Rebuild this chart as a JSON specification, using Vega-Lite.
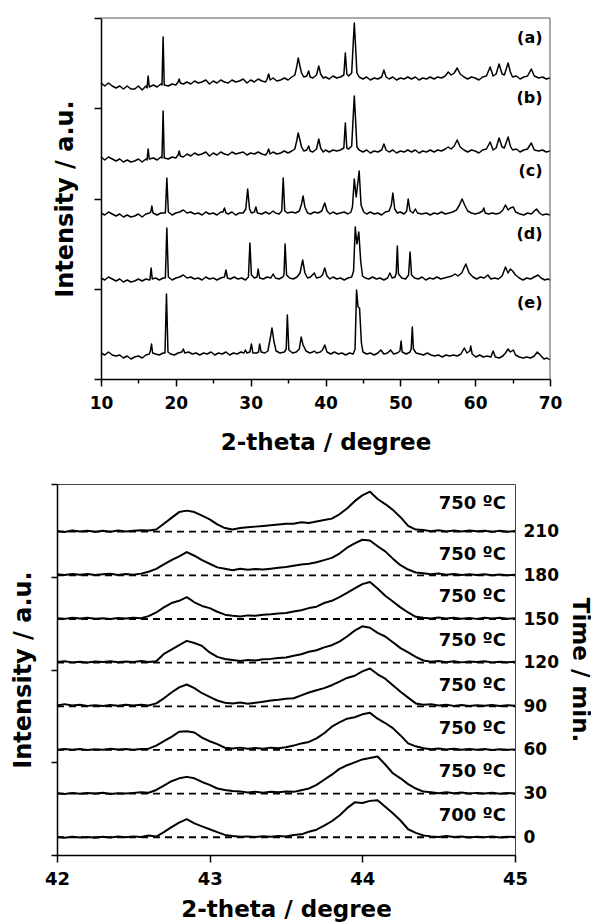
{
"$schema": "https://vega.github.io/schema/vega-lite/v6.json",
"background": "#ffffff",
"padding": {"left": 10, "top": 17, "right": 0, "bottom": 0},
"spacing": 28,
"config": {
  "view": {"stroke": null},
  "font": "DejaVu Sans",
  "axis": {"labelFont": "DejaVu Sans", "titleFont": "DejaVu Sans", "labelFontWeight": "bold", "titleFontWeight": "bold", "labelColor": "#000", "titleColor": "#000", "domainColor": "#000", "tickColor": "#000", "grid": false, "domainWidth": 1.5, "tickWidth": 1.5}
},
"datasets": {
"top": [
{"s":"a","x":10,"y":296},{"s":"a","x":10.5,"y":293},{"s":"a","x":11,"y":296},{"s":"a","x":11.5,"y":293},{"s":"a","x":12,"y":291},{"s":"a","x":12.5,"y":293},{"s":"a","x":13,"y":290},{"s":"a","x":13.5,"y":293},{"s":"a","x":14,"y":290},{"s":"a","x":14.5,"y":290},{"s":"a","x":15,"y":293},{"s":"a","x":15.5,"y":289},{"s":"a","x":16,"y":293},{"s":"a","x":16.15,"y":291},{"s":"a","x":16.3,"y":303},{"s":"a","x":16.45,"y":292},{"s":"a","x":17,"y":294},{"s":"a","x":17.5,"y":292},{"s":"a","x":18,"y":295},{"s":"a","x":18.15,"y":294},{"s":"a","x":18.3,"y":342},{"s":"a","x":18.45,"y":294},{"s":"a","x":19,"y":293},{"s":"a","x":19.5,"y":295},{"s":"a","x":20,"y":294},{"s":"a","x":20.3,"y":297},{"s":"a","x":20.45,"y":300},{"s":"a","x":20.6,"y":296},{"s":"a","x":21,"y":295},{"s":"a","x":21.5,"y":297},{"s":"a","x":22,"y":295},{"s":"a","x":22.5,"y":298},{"s":"a","x":23,"y":296},{"s":"a","x":23.5,"y":297},{"s":"a","x":24,"y":299},{"s":"a","x":24.5,"y":295},{"s":"a","x":25,"y":298},{"s":"a","x":25.5,"y":296},{"s":"a","x":26,"y":299},{"s":"a","x":26.5,"y":297},{"s":"a","x":27,"y":296},{"s":"a","x":27.5,"y":299},{"s":"a","x":28,"y":297},{"s":"a","x":28.5,"y":298},{"s":"a","x":29,"y":300},{"s":"a","x":29.5,"y":296},{"s":"a","x":30,"y":299},{"s":"a","x":30.5,"y":297},{"s":"a","x":31,"y":300},{"s":"a","x":31.5,"y":298},{"s":"a","x":32,"y":297},{"s":"a","x":32.2,"y":300},{"s":"a","x":32.4,"y":305},{"s":"a","x":32.6,"y":299},{"s":"a","x":33,"y":301},{"s":"a","x":33.5,"y":298},{"s":"a","x":34,"y":299},{"s":"a","x":34.5,"y":301},{"s":"a","x":35,"y":299},{"s":"a","x":35.5,"y":302},{"s":"a","x":35.9,"y":304},{"s":"a","x":36.15,"y":312},{"s":"a","x":36.35,"y":321},{"s":"a","x":36.55,"y":314},{"s":"a","x":36.8,"y":306},{"s":"a","x":37.1,"y":302},{"s":"a","x":37.5,"y":303},{"s":"a","x":37.75,"y":308},{"s":"a","x":37.95,"y":302},{"s":"a","x":38.3,"y":301},{"s":"a","x":38.8,"y":304},{"s":"a","x":39.1,"y":313},{"s":"a","x":39.35,"y":305},{"s":"a","x":39.7,"y":301},{"s":"a","x":40,"y":302},{"s":"a","x":40.5,"y":300},{"s":"a","x":41,"y":303},{"s":"a","x":41.5,"y":301},{"s":"a","x":42,"y":302},{"s":"a","x":42.45,"y":304},{"s":"a","x":42.65,"y":326},{"s":"a","x":42.85,"y":305},{"s":"a","x":43.1,"y":303},{"s":"a","x":43.5,"y":306},{"s":"a","x":43.7,"y":335},{"s":"a","x":43.85,"y":356},{"s":"a","x":44,"y":335},{"s":"a","x":44.2,"y":306},{"s":"a","x":44.5,"y":302},{"s":"a","x":45,"y":300},{"s":"a","x":45.5,"y":302},{"s":"a","x":46,"y":299},{"s":"a","x":46.5,"y":301},{"s":"a","x":47,"y":300},{"s":"a","x":47.5,"y":302},{"s":"a","x":47.8,"y":309},{"s":"a","x":48.1,"y":302},{"s":"a","x":48.5,"y":300},{"s":"a","x":49,"y":302},{"s":"a","x":49.5,"y":299},{"s":"a","x":50,"y":301},{"s":"a","x":50.5,"y":300},{"s":"a","x":51,"y":302},{"s":"a","x":51.5,"y":300},{"s":"a","x":52,"y":302},{"s":"a","x":52.5,"y":299},{"s":"a","x":53,"y":301},{"s":"a","x":53.5,"y":300},{"s":"a","x":54,"y":302},{"s":"a","x":54.5,"y":300},{"s":"a","x":55,"y":302},{"s":"a","x":55.5,"y":301},{"s":"a","x":56,"y":303},{"s":"a","x":56.4,"y":307},{"s":"a","x":56.8,"y":304},{"s":"a","x":57.2,"y":306},{"s":"a","x":57.6,"y":311},{"s":"a","x":58,"y":305},{"s":"a","x":58.5,"y":302},{"s":"a","x":59,"y":300},{"s":"a","x":59.5,"y":302},{"s":"a","x":60,"y":301},{"s":"a","x":60.5,"y":299},{"s":"a","x":61,"y":302},{"s":"a","x":61.5,"y":303},{"s":"a","x":62,"y":312},{"s":"a","x":62.4,"y":303},{"s":"a","x":62.8,"y":305},{"s":"a","x":63.2,"y":315},{"s":"a","x":63.6,"y":305},{"s":"a","x":63.9,"y":304},{"s":"a","x":64.4,"y":316},{"s":"a","x":64.7,"y":307},{"s":"a","x":65,"y":302},{"s":"a","x":65.5,"y":303},{"s":"a","x":66,"y":300},{"s":"a","x":66.5,"y":302},{"s":"a","x":67,"y":303},{"s":"a","x":67.5,"y":310},{"s":"a","x":67.9,"y":303},{"s":"a","x":68.5,"y":301},{"s":"a","x":69,"y":302},{"s":"a","x":69.5,"y":300},{"s":"a","x":70,"y":301},
{"s":"b","x":10,"y":222},{"s":"b","x":10.5,"y":219},{"s":"b","x":11,"y":222},{"s":"b","x":11.5,"y":220},{"s":"b","x":12,"y":218},{"s":"b","x":12.5,"y":220},{"s":"b","x":13,"y":217},{"s":"b","x":13.5,"y":219},{"s":"b","x":14,"y":217},{"s":"b","x":14.5,"y":218},{"s":"b","x":15,"y":220},{"s":"b","x":15.5,"y":217},{"s":"b","x":16,"y":220},{"s":"b","x":16.15,"y":219},{"s":"b","x":16.3,"y":230},{"s":"b","x":16.45,"y":220},{"s":"b","x":17,"y":221},{"s":"b","x":17.5,"y":219},{"s":"b","x":18,"y":222},{"s":"b","x":18.15,"y":221},{"s":"b","x":18.3,"y":268},{"s":"b","x":18.45,"y":221},{"s":"b","x":19,"y":220},{"s":"b","x":19.5,"y":222},{"s":"b","x":20,"y":221},{"s":"b","x":20.3,"y":224},{"s":"b","x":20.45,"y":228},{"s":"b","x":20.6,"y":223},{"s":"b","x":21,"y":222},{"s":"b","x":21.5,"y":225},{"s":"b","x":22,"y":223},{"s":"b","x":22.5,"y":226},{"s":"b","x":23,"y":224},{"s":"b","x":23.5,"y":225},{"s":"b","x":24,"y":227},{"s":"b","x":24.5,"y":223},{"s":"b","x":25,"y":226},{"s":"b","x":25.5,"y":224},{"s":"b","x":26,"y":227},{"s":"b","x":26.5,"y":225},{"s":"b","x":27,"y":224},{"s":"b","x":27.5,"y":227},{"s":"b","x":28,"y":225},{"s":"b","x":28.5,"y":226},{"s":"b","x":29,"y":227},{"s":"b","x":29.5,"y":224},{"s":"b","x":30,"y":226},{"s":"b","x":30.5,"y":225},{"s":"b","x":31,"y":227},{"s":"b","x":31.5,"y":225},{"s":"b","x":32,"y":224},{"s":"b","x":32.2,"y":226},{"s":"b","x":32.4,"y":230},{"s":"b","x":32.6,"y":225},{"s":"b","x":33,"y":227},{"s":"b","x":33.5,"y":225},{"s":"b","x":34,"y":226},{"s":"b","x":34.5,"y":228},{"s":"b","x":35,"y":226},{"s":"b","x":35.5,"y":228},{"s":"b","x":35.9,"y":230},{"s":"b","x":36.15,"y":238},{"s":"b","x":36.35,"y":246},{"s":"b","x":36.55,"y":240},{"s":"b","x":36.8,"y":232},{"s":"b","x":37.1,"y":228},{"s":"b","x":37.5,"y":229},{"s":"b","x":37.75,"y":233},{"s":"b","x":37.95,"y":228},{"s":"b","x":38.3,"y":227},{"s":"b","x":38.8,"y":230},{"s":"b","x":39.1,"y":240},{"s":"b","x":39.35,"y":231},{"s":"b","x":39.7,"y":227},{"s":"b","x":40,"y":229},{"s":"b","x":40.5,"y":227},{"s":"b","x":41,"y":229},{"s":"b","x":41.5,"y":228},{"s":"b","x":42,"y":229},{"s":"b","x":42.45,"y":231},{"s":"b","x":42.65,"y":256},{"s":"b","x":42.85,"y":231},{"s":"b","x":43.1,"y":230},{"s":"b","x":43.5,"y":233},{"s":"b","x":43.7,"y":262},{"s":"b","x":43.85,"y":283},{"s":"b","x":44,"y":262},{"s":"b","x":44.2,"y":232},{"s":"b","x":44.5,"y":229},{"s":"b","x":45,"y":227},{"s":"b","x":45.5,"y":229},{"s":"b","x":46,"y":226},{"s":"b","x":46.5,"y":228},{"s":"b","x":47,"y":227},{"s":"b","x":47.5,"y":229},{"s":"b","x":47.8,"y":235},{"s":"b","x":48.1,"y":229},{"s":"b","x":48.5,"y":227},{"s":"b","x":49,"y":229},{"s":"b","x":49.5,"y":226},{"s":"b","x":50,"y":228},{"s":"b","x":50.5,"y":227},{"s":"b","x":51,"y":229},{"s":"b","x":51.5,"y":227},{"s":"b","x":52,"y":229},{"s":"b","x":52.5,"y":226},{"s":"b","x":53,"y":228},{"s":"b","x":53.5,"y":227},{"s":"b","x":54,"y":229},{"s":"b","x":54.5,"y":227},{"s":"b","x":55,"y":229},{"s":"b","x":55.5,"y":228},{"s":"b","x":56,"y":230},{"s":"b","x":56.4,"y":232},{"s":"b","x":56.8,"y":230},{"s":"b","x":57.2,"y":233},{"s":"b","x":57.6,"y":239},{"s":"b","x":58,"y":232},{"s":"b","x":58.5,"y":229},{"s":"b","x":59,"y":227},{"s":"b","x":59.5,"y":229},{"s":"b","x":60,"y":228},{"s":"b","x":60.5,"y":226},{"s":"b","x":61,"y":229},{"s":"b","x":61.5,"y":230},{"s":"b","x":62,"y":237},{"s":"b","x":62.4,"y":229},{"s":"b","x":62.8,"y":231},{"s":"b","x":63.2,"y":241},{"s":"b","x":63.6,"y":232},{"s":"b","x":63.9,"y":231},{"s":"b","x":64.4,"y":242},{"s":"b","x":64.7,"y":233},{"s":"b","x":65,"y":229},{"s":"b","x":65.5,"y":230},{"s":"b","x":66,"y":227},{"s":"b","x":66.5,"y":229},{"s":"b","x":67,"y":230},{"s":"b","x":67.5,"y":236},{"s":"b","x":67.9,"y":229},{"s":"b","x":68.5,"y":228},{"s":"b","x":69,"y":229},{"s":"b","x":69.5,"y":227},{"s":"b","x":70,"y":228},
{"s":"c","x":10,"y":166},{"s":"c","x":10.5,"y":164},{"s":"c","x":11,"y":167},{"s":"c","x":11.5,"y":165},{"s":"c","x":12,"y":163},{"s":"c","x":12.5,"y":165},{"s":"c","x":13,"y":162},{"s":"c","x":13.5,"y":164},{"s":"c","x":14,"y":162},{"s":"c","x":14.5,"y":163},{"s":"c","x":15,"y":165},{"s":"c","x":15.5,"y":162},{"s":"c","x":16,"y":165},{"s":"c","x":16.5,"y":166},{"s":"c","x":16.65,"y":167},{"s":"c","x":16.8,"y":173},{"s":"c","x":16.95,"y":166},{"s":"c","x":17.5,"y":164},{"s":"c","x":18,"y":166},{"s":"c","x":18.6,"y":166},{"s":"c","x":18.8,"y":201},{"s":"c","x":19,"y":167},{"s":"c","x":19.5,"y":164},{"s":"c","x":20,"y":166},{"s":"c","x":20.5,"y":167},{"s":"c","x":21,"y":169},{"s":"c","x":21.5,"y":166},{"s":"c","x":22,"y":167},{"s":"c","x":22.5,"y":165},{"s":"c","x":23,"y":166},{"s":"c","x":23.5,"y":164},{"s":"c","x":24,"y":167},{"s":"c","x":24.5,"y":165},{"s":"c","x":25,"y":166},{"s":"c","x":25.5,"y":164},{"s":"c","x":26,"y":167},{"s":"c","x":26.3,"y":167},{"s":"c","x":26.5,"y":171},{"s":"c","x":26.7,"y":166},{"s":"c","x":27,"y":165},{"s":"c","x":27.5,"y":167},{"s":"c","x":28,"y":164},{"s":"c","x":28.5,"y":166},{"s":"c","x":29,"y":166},{"s":"c","x":29.35,"y":170},{"s":"c","x":29.6,"y":190},{"s":"c","x":29.85,"y":170},{"s":"c","x":30.1,"y":166},{"s":"c","x":30.5,"y":167},{"s":"c","x":30.7,"y":172},{"s":"c","x":30.9,"y":166},{"s":"c","x":31.5,"y":165},{"s":"c","x":32,"y":167},{"s":"c","x":32.5,"y":165},{"s":"c","x":33,"y":168},{"s":"c","x":33.3,"y":166},{"s":"c","x":33.8,"y":165},{"s":"c","x":34.15,"y":168},{"s":"c","x":34.35,"y":201},{"s":"c","x":34.55,"y":168},{"s":"c","x":34.9,"y":166},{"s":"c","x":35.5,"y":167},{"s":"c","x":36,"y":166},{"s":"c","x":36.5,"y":168},{"s":"c","x":36.8,"y":175},{"s":"c","x":37,"y":183},{"s":"c","x":37.25,"y":172},{"s":"c","x":37.6,"y":166},{"s":"c","x":38,"y":165},{"s":"c","x":38.5,"y":167},{"s":"c","x":39,"y":166},{"s":"c","x":39.5,"y":168},{"s":"c","x":39.9,"y":176},{"s":"c","x":40.2,"y":168},{"s":"c","x":40.6,"y":165},{"s":"c","x":41,"y":167},{"s":"c","x":41.5,"y":165},{"s":"c","x":42,"y":166},{"s":"c","x":42.5,"y":167},{"s":"c","x":43,"y":165},{"s":"c","x":43.4,"y":167},{"s":"c","x":43.6,"y":172},{"s":"c","x":43.85,"y":200},{"s":"c","x":44.1,"y":182},{"s":"c","x":44.5,"y":208},{"s":"c","x":44.75,"y":174},{"s":"c","x":45.1,"y":167},{"s":"c","x":45.5,"y":165},{"s":"c","x":46,"y":167},{"s":"c","x":46.5,"y":165},{"s":"c","x":47,"y":166},{"s":"c","x":47.5,"y":164},{"s":"c","x":48,"y":167},{"s":"c","x":48.5,"y":168},{"s":"c","x":48.8,"y":174},{"s":"c","x":49,"y":186},{"s":"c","x":49.25,"y":170},{"s":"c","x":49.6,"y":166},{"s":"c","x":50,"y":167},{"s":"c","x":50.5,"y":165},{"s":"c","x":50.85,"y":168},{"s":"c","x":51.05,"y":180},{"s":"c","x":51.3,"y":168},{"s":"c","x":51.7,"y":166},{"s":"c","x":52,"y":170},{"s":"c","x":52.3,"y":166},{"s":"c","x":52.8,"y":165},{"s":"c","x":53.5,"y":166},{"s":"c","x":54,"y":164},{"s":"c","x":54.5,"y":166},{"s":"c","x":55,"y":165},{"s":"c","x":55.5,"y":167},{"s":"c","x":56,"y":165},{"s":"c","x":56.5,"y":166},{"s":"c","x":57,"y":167},{"s":"c","x":57.5,"y":169},{"s":"c","x":57.9,"y":174},{"s":"c","x":58.25,"y":180},{"s":"c","x":58.6,"y":174},{"s":"c","x":59,"y":168},{"s":"c","x":59.5,"y":166},{"s":"c","x":60,"y":165},{"s":"c","x":60.5,"y":166},{"s":"c","x":61,"y":168},{"s":"c","x":61.15,"y":171},{"s":"c","x":61.35,"y":166},{"s":"c","x":61.8,"y":165},{"s":"c","x":62.3,"y":166},{"s":"c","x":62.8,"y":165},{"s":"c","x":63.3,"y":166},{"s":"c","x":63.7,"y":169},{"s":"c","x":64.05,"y":174},{"s":"c","x":64.4,"y":169},{"s":"c","x":64.7,"y":171},{"s":"c","x":65.1,"y":172},{"s":"c","x":65.4,"y":167},{"s":"c","x":66,"y":165},{"s":"c","x":66.5,"y":164},{"s":"c","x":67,"y":166},{"s":"c","x":67.5,"y":165},{"s":"c","x":67.9,"y":168},{"s":"c","x":68.2,"y":170},{"s":"c","x":68.6,"y":166},{"s":"c","x":69,"y":164},{"s":"c","x":69.5,"y":165},{"s":"c","x":70,"y":164},
{"s":"d","x":10,"y":101},{"s":"d","x":10.5,"y":99},{"s":"d","x":11,"y":102},{"s":"d","x":11.5,"y":100},{"s":"d","x":12,"y":98},{"s":"d","x":12.5,"y":100},{"s":"d","x":13,"y":97},{"s":"d","x":13.5,"y":99},{"s":"d","x":14,"y":97},{"s":"d","x":14.5,"y":98},{"s":"d","x":15,"y":100},{"s":"d","x":15.5,"y":98},{"s":"d","x":16,"y":100},{"s":"d","x":16.5,"y":99},{"s":"d","x":16.55,"y":100},{"s":"d","x":16.7,"y":111},{"s":"d","x":16.85,"y":100},{"s":"d","x":17.3,"y":101},{"s":"d","x":17.8,"y":99},{"s":"d","x":18.3,"y":101},{"s":"d","x":18.6,"y":101},{"s":"d","x":18.8,"y":151},{"s":"d","x":19,"y":102},{"s":"d","x":19.5,"y":99},{"s":"d","x":20,"y":101},{"s":"d","x":20.5,"y":102},{"s":"d","x":21,"y":104},{"s":"d","x":21.5,"y":101},{"s":"d","x":22,"y":102},{"s":"d","x":22.5,"y":100},{"s":"d","x":23,"y":101},{"s":"d","x":23.5,"y":99},{"s":"d","x":24,"y":102},{"s":"d","x":24.5,"y":100},{"s":"d","x":25,"y":101},{"s":"d","x":25.5,"y":99},{"s":"d","x":26,"y":101},{"s":"d","x":26.5,"y":102},{"s":"d","x":26.7,"y":109},{"s":"d","x":26.9,"y":101},{"s":"d","x":27.3,"y":100},{"s":"d","x":27.8,"y":102},{"s":"d","x":28.3,"y":100},{"s":"d","x":28.8,"y":101},{"s":"d","x":29.3,"y":99},{"s":"d","x":29.7,"y":102},{"s":"d","x":29.9,"y":136},{"s":"d","x":30.1,"y":104},{"s":"d","x":30.5,"y":101},{"s":"d","x":30.85,"y":102},{"s":"d","x":31,"y":110},{"s":"d","x":31.2,"y":101},{"s":"d","x":31.7,"y":100},{"s":"d","x":32.2,"y":102},{"s":"d","x":32.7,"y":101},{"s":"d","x":33,"y":105},{"s":"d","x":33.3,"y":101},{"s":"d","x":33.8,"y":100},{"s":"d","x":34.3,"y":102},{"s":"d","x":34.45,"y":104},{"s":"d","x":34.6,"y":135},{"s":"d","x":34.8,"y":104},{"s":"d","x":35.2,"y":101},{"s":"d","x":35.7,"y":100},{"s":"d","x":36.2,"y":102},{"s":"d","x":36.6,"y":106},{"s":"d","x":36.95,"y":119},{"s":"d","x":37.25,"y":106},{"s":"d","x":37.6,"y":101},{"s":"d","x":38,"y":102},{"s":"d","x":38.5,"y":106},{"s":"d","x":38.8,"y":101},{"s":"d","x":39.3,"y":102},{"s":"d","x":39.6,"y":104},{"s":"d","x":39.9,"y":111},{"s":"d","x":40.2,"y":103},{"s":"d","x":40.6,"y":100},{"s":"d","x":41,"y":102},{"s":"d","x":41.5,"y":100},{"s":"d","x":42,"y":101},{"s":"d","x":42.5,"y":99},{"s":"d","x":43,"y":101},{"s":"d","x":43.5,"y":102},{"s":"d","x":43.75,"y":108},{"s":"d","x":43.98,"y":152},{"s":"d","x":44.2,"y":135},{"s":"d","x":44.45,"y":147},{"s":"d","x":44.7,"y":118},{"s":"d","x":44.95,"y":103},{"s":"d","x":45.3,"y":101},{"s":"d","x":45.8,"y":100},{"s":"d","x":46.3,"y":102},{"s":"d","x":46.8,"y":100},{"s":"d","x":47.3,"y":101},{"s":"d","x":47.8,"y":99},{"s":"d","x":48.3,"y":101},{"s":"d","x":48.6,"y":106},{"s":"d","x":48.9,"y":101},{"s":"d","x":49.3,"y":102},{"s":"d","x":49.45,"y":106},{"s":"d","x":49.6,"y":133},{"s":"d","x":49.75,"y":105},{"s":"d","x":50.2,"y":101},{"s":"d","x":50.7,"y":100},{"s":"d","x":51.1,"y":104},{"s":"d","x":51.3,"y":127},{"s":"d","x":51.5,"y":104},{"s":"d","x":51.9,"y":101},{"s":"d","x":52.4,"y":100},{"s":"d","x":52.9,"y":102},{"s":"d","x":53.4,"y":99},{"s":"d","x":53.9,"y":101},{"s":"d","x":54.4,"y":100},{"s":"d","x":54.9,"y":102},{"s":"d","x":55.4,"y":100},{"s":"d","x":55.9,"y":101},{"s":"d","x":56.4,"y":102},{"s":"d","x":56.9,"y":103},{"s":"d","x":57.3,"y":105},{"s":"d","x":57.7,"y":103},{"s":"d","x":58.2,"y":106},{"s":"d","x":58.75,"y":115},{"s":"d","x":59.2,"y":106},{"s":"d","x":59.7,"y":102},{"s":"d","x":60.2,"y":100},{"s":"d","x":60.7,"y":102},{"s":"d","x":61.2,"y":101},{"s":"d","x":61.7,"y":104},{"s":"d","x":62.1,"y":100},{"s":"d","x":62.6,"y":101},{"s":"d","x":63.1,"y":100},{"s":"d","x":63.6,"y":103},{"s":"d","x":64.05,"y":112},{"s":"d","x":64.4,"y":106},{"s":"d","x":64.7,"y":110},{"s":"d","x":65,"y":108},{"s":"d","x":65.4,"y":104},{"s":"d","x":65.9,"y":101},{"s":"d","x":66.4,"y":99},{"s":"d","x":66.9,"y":101},{"s":"d","x":67.4,"y":100},{"s":"d","x":67.9,"y":102},{"s":"d","x":68.4,"y":104},{"s":"d","x":68.8,"y":101},{"s":"d","x":69.3,"y":99},{"s":"d","x":69.7,"y":100},{"s":"d","x":70,"y":99},
{"s":"e","x":10,"y":26},{"s":"e","x":10.5,"y":24},{"s":"e","x":11,"y":27},{"s":"e","x":11.5,"y":24},{"s":"e","x":12,"y":23},{"s":"e","x":12.5,"y":24},{"s":"e","x":13,"y":21},{"s":"e","x":13.5,"y":23},{"s":"e","x":14,"y":20},{"s":"e","x":14.5,"y":22},{"s":"e","x":15,"y":23},{"s":"e","x":15.5,"y":21},{"s":"e","x":16,"y":24},{"s":"e","x":16.45,"y":25},{"s":"e","x":16.6,"y":28},{"s":"e","x":16.75,"y":35},{"s":"e","x":16.9,"y":26},{"s":"e","x":17.3,"y":25},{"s":"e","x":17.8,"y":24},{"s":"e","x":18.3,"y":26},{"s":"e","x":18.55,"y":26},{"s":"e","x":18.75,"y":85},{"s":"e","x":18.95,"y":27},{"s":"e","x":19.3,"y":25},{"s":"e","x":19.8,"y":24},{"s":"e","x":20.3,"y":26},{"s":"e","x":20.8,"y":27},{"s":"e","x":21,"y":30},{"s":"e","x":21.2,"y":26},{"s":"e","x":21.7,"y":27},{"s":"e","x":22.2,"y":25},{"s":"e","x":22.7,"y":26},{"s":"e","x":23.2,"y":24},{"s":"e","x":23.7,"y":26},{"s":"e","x":24.2,"y":25},{"s":"e","x":24.7,"y":27},{"s":"e","x":25.2,"y":24},{"s":"e","x":25.7,"y":26},{"s":"e","x":26.2,"y":25},{"s":"e","x":26.7,"y":27},{"s":"e","x":27.2,"y":24},{"s":"e","x":27.7,"y":26},{"s":"e","x":28.2,"y":25},{"s":"e","x":28.7,"y":27},{"s":"e","x":29.1,"y":26},{"s":"e","x":29.3,"y":29},{"s":"e","x":29.5,"y":26},{"s":"e","x":29.9,"y":27},{"s":"e","x":30.1,"y":35},{"s":"e","x":30.3,"y":26},{"s":"e","x":30.8,"y":26},{"s":"e","x":31.05,"y":27},{"s":"e","x":31.2,"y":35},{"s":"e","x":31.4,"y":27},{"s":"e","x":31.9,"y":26},{"s":"e","x":32.3,"y":28},{"s":"e","x":32.6,"y":40},{"s":"e","x":32.85,"y":51},{"s":"e","x":33.1,"y":38},{"s":"e","x":33.4,"y":28},{"s":"e","x":33.9,"y":26},{"s":"e","x":34.5,"y":27},{"s":"e","x":34.75,"y":30},{"s":"e","x":34.9,"y":64},{"s":"e","x":35.1,"y":29},{"s":"e","x":35.6,"y":26},{"s":"e","x":36.1,"y":27},{"s":"e","x":36.5,"y":30},{"s":"e","x":36.75,"y":42},{"s":"e","x":37,"y":34},{"s":"e","x":37.4,"y":28},{"s":"e","x":37.9,"y":26},{"s":"e","x":38.3,"y":27},{"s":"e","x":38.5,"y":28},{"s":"e","x":38.8,"y":26},{"s":"e","x":39.3,"y":27},{"s":"e","x":39.6,"y":29},{"s":"e","x":39.9,"y":34},{"s":"e","x":40.2,"y":27},{"s":"e","x":40.7,"y":25},{"s":"e","x":41.2,"y":27},{"s":"e","x":41.7,"y":25},{"s":"e","x":42.2,"y":26},{"s":"e","x":42.7,"y":24},{"s":"e","x":43.2,"y":26},{"s":"e","x":43.7,"y":25},{"s":"e","x":43.95,"y":30},{"s":"e","x":44.15,"y":89},{"s":"e","x":44.35,"y":72},{"s":"e","x":44.55,"y":71},{"s":"e","x":44.8,"y":36},{"s":"e","x":45,"y":27},{"s":"e","x":45.5,"y":25},{"s":"e","x":46,"y":26},{"s":"e","x":46.5,"y":24},{"s":"e","x":47,"y":26},{"s":"e","x":47.4,"y":29},{"s":"e","x":47.8,"y":25},{"s":"e","x":48.3,"y":26},{"s":"e","x":48.7,"y":29},{"s":"e","x":49.1,"y":25},{"s":"e","x":49.6,"y":26},{"s":"e","x":49.95,"y":28},{"s":"e","x":50.1,"y":38},{"s":"e","x":50.25,"y":27},{"s":"e","x":50.8,"y":25},{"s":"e","x":51.3,"y":27},{"s":"e","x":51.45,"y":30},{"s":"e","x":51.6,"y":52},{"s":"e","x":51.75,"y":30},{"s":"e","x":52.1,"y":26},{"s":"e","x":52.6,"y":25},{"s":"e","x":53.1,"y":24},{"s":"e","x":53.6,"y":26},{"s":"e","x":54.1,"y":24},{"s":"e","x":54.6,"y":23},{"s":"e","x":55.1,"y":24},{"s":"e","x":55.6,"y":22},{"s":"e","x":56.1,"y":24},{"s":"e","x":56.6,"y":23},{"s":"e","x":57.1,"y":24},{"s":"e","x":57.6,"y":23},{"s":"e","x":58.1,"y":25},{"s":"e","x":58.55,"y":31},{"s":"e","x":58.9,"y":26},{"s":"e","x":59.3,"y":28},{"s":"e","x":59.4,"y":33},{"s":"e","x":59.6,"y":25},{"s":"e","x":60.1,"y":22},{"s":"e","x":60.6,"y":24},{"s":"e","x":61.1,"y":22},{"s":"e","x":61.6,"y":23},{"s":"e","x":62.1,"y":22},{"s":"e","x":62.4,"y":28},{"s":"e","x":62.7,"y":22},{"s":"e","x":63.2,"y":21},{"s":"e","x":63.7,"y":23},{"s":"e","x":64.05,"y":26},{"s":"e","x":64.4,"y":30},{"s":"e","x":64.7,"y":27},{"s":"e","x":65.1,"y":29},{"s":"e","x":65.4,"y":24},{"s":"e","x":65.9,"y":22},{"s":"e","x":66.4,"y":21},{"s":"e","x":66.9,"y":22},{"s":"e","x":67.4,"y":21},{"s":"e","x":67.9,"y":23},{"s":"e","x":68.3,"y":27},{"s":"e","x":68.7,"y":24},{"s":"e","x":69.2,"y":20},{"s":"e","x":69.6,"y":21},{"s":"e","x":70,"y":19}
],
"toplab": [{"lab":"(a)","y":341},{"lab":"(b)","y":281},{"lab":"(c)","y":208},{"lab":"(d)","y":145},{"lab":"(e)","y":76}],
"botlab": [{"t":210,"lab":"750 ºC","ly":229.2},{"t":180,"lab":"750 ºC","ly":194.1},{"t":150,"lab":"750 ºC","ly":165.2},{"t":120,"lab":"750 ºC","ly":134.9},{"t":90,"lab":"750 ºC","ly":103.9},{"t":60,"lab":"750 ºC","ly":74.3},{"t":30,"lab":"750 ºC","ly":44.7},{"t":0,"lab":"700 ºC","ly":14.5}],
"bottom": [
{"t":210,"x":42,"y":210.5},{"t":210,"x":42.05,"y":209.8},{"t":210,"x":42.1,"y":210.8},{"t":210,"x":42.15,"y":210.2},{"t":210,"x":42.2,"y":210.6},{"t":210,"x":42.25,"y":209.9},{"t":210,"x":42.3,"y":210.7},{"t":210,"x":42.35,"y":210},{"t":210,"x":42.4,"y":210.9},{"t":210,"x":42.45,"y":210.1},{"t":210,"x":42.5,"y":210.6},{"t":210,"x":42.55,"y":211},{"t":210,"x":42.6,"y":210.8},{"t":210,"x":42.65,"y":211.5},{"t":210,"x":42.7,"y":215.5},{"t":210,"x":42.75,"y":219.5},{"t":210,"x":42.8,"y":223.5},{"t":210,"x":42.85,"y":224.5},{"t":210,"x":42.9,"y":223.5},{"t":210,"x":42.95,"y":221},{"t":210,"x":43,"y":218.5},{"t":210,"x":43.05,"y":215},{"t":210,"x":43.1,"y":212.5},{"t":210,"x":43.15,"y":211.5},{"t":210,"x":43.2,"y":212.5},{"t":210,"x":43.25,"y":213},{"t":210,"x":43.3,"y":213.5},{"t":210,"x":43.35,"y":214},{"t":210,"x":43.4,"y":214.5},{"t":210,"x":43.45,"y":215},{"t":210,"x":43.5,"y":215.5},{"t":210,"x":43.55,"y":215.5},{"t":210,"x":43.6,"y":216.5},{"t":210,"x":43.65,"y":216},{"t":210,"x":43.7,"y":217},{"t":210,"x":43.75,"y":218},{"t":210,"x":43.8,"y":219},{"t":210,"x":43.85,"y":222},{"t":210,"x":43.9,"y":226},{"t":210,"x":43.95,"y":231},{"t":210,"x":44,"y":235},{"t":210,"x":44.05,"y":237.5},{"t":210,"x":44.1,"y":232.5},{"t":210,"x":44.15,"y":229},{"t":210,"x":44.2,"y":225},{"t":210,"x":44.25,"y":220},{"t":210,"x":44.3,"y":214},{"t":210,"x":44.35,"y":211.5},{"t":210,"x":44.4,"y":211.2},{"t":210,"x":44.45,"y":210.4},{"t":210,"x":44.5,"y":211},{"t":210,"x":44.55,"y":210.2},{"t":210,"x":44.6,"y":210.8},{"t":210,"x":44.65,"y":210.1},{"t":210,"x":44.7,"y":210.9},{"t":210,"x":44.75,"y":210.3},{"t":210,"x":44.8,"y":210.6},{"t":210,"x":44.85,"y":209.9},{"t":210,"x":44.9,"y":210.7},{"t":210,"x":44.95,"y":210},{"t":210,"x":45,"y":210.5},
{"t":180,"x":42,"y":180.8},{"t":180,"x":42.05,"y":180.3},{"t":180,"x":42.1,"y":181},{"t":180,"x":42.15,"y":180.4},{"t":180,"x":42.2,"y":180.9},{"t":180,"x":42.25,"y":180.2},{"t":180,"x":42.3,"y":180.7},{"t":180,"x":42.35,"y":181.1},{"t":180,"x":42.4,"y":180.3},{"t":180,"x":42.45,"y":180.9},{"t":180,"x":42.5,"y":180.4},{"t":180,"x":42.55,"y":181.2},{"t":180,"x":42.6,"y":182.5},{"t":180,"x":42.65,"y":184.5},{"t":180,"x":42.7,"y":187.5},{"t":180,"x":42.75,"y":190.5},{"t":180,"x":42.8,"y":193},{"t":180,"x":42.85,"y":196},{"t":180,"x":42.9,"y":193.5},{"t":180,"x":42.95,"y":190.5},{"t":180,"x":43,"y":188},{"t":180,"x":43.05,"y":185.5},{"t":180,"x":43.1,"y":184.5},{"t":180,"x":43.15,"y":183.5},{"t":180,"x":43.2,"y":184.5},{"t":180,"x":43.25,"y":183.8},{"t":180,"x":43.3,"y":184.3},{"t":180,"x":43.35,"y":184},{"t":180,"x":43.4,"y":184.6},{"t":180,"x":43.45,"y":185.2},{"t":180,"x":43.5,"y":185.8},{"t":180,"x":43.55,"y":186.6},{"t":180,"x":43.6,"y":187.5},{"t":180,"x":43.65,"y":188},{"t":180,"x":43.7,"y":189},{"t":180,"x":43.75,"y":190.5},{"t":180,"x":43.8,"y":192},{"t":180,"x":43.85,"y":195},{"t":180,"x":43.9,"y":199},{"t":180,"x":43.95,"y":202},{"t":180,"x":44,"y":204.5},{"t":180,"x":44.05,"y":204},{"t":180,"x":44.1,"y":200},{"t":180,"x":44.15,"y":196.5},{"t":180,"x":44.2,"y":191.5},{"t":180,"x":44.25,"y":187},{"t":180,"x":44.3,"y":184},{"t":180,"x":44.35,"y":182},{"t":180,"x":44.4,"y":181.5},{"t":180,"x":44.45,"y":180.8},{"t":180,"x":44.5,"y":181.3},{"t":180,"x":44.55,"y":180.5},{"t":180,"x":44.6,"y":181},{"t":180,"x":44.65,"y":180.3},{"t":180,"x":44.7,"y":180.8},{"t":180,"x":44.75,"y":180.2},{"t":180,"x":44.8,"y":180.7},{"t":180,"x":44.85,"y":180.1},{"t":180,"x":44.9,"y":180.6},{"t":180,"x":44.95,"y":180},{"t":180,"x":45,"y":180.4},
{"t":150,"x":42,"y":150.6},{"t":150,"x":42.05,"y":150.1},{"t":150,"x":42.1,"y":150.8},{"t":150,"x":42.15,"y":150.3},{"t":150,"x":42.2,"y":150.9},{"t":150,"x":42.25,"y":150.2},{"t":150,"x":42.3,"y":150.6},{"t":150,"x":42.35,"y":150},{"t":150,"x":42.4,"y":150.7},{"t":150,"x":42.45,"y":150.3},{"t":150,"x":42.5,"y":150.9},{"t":150,"x":42.55,"y":150.6},{"t":150,"x":42.6,"y":152},{"t":150,"x":42.65,"y":154.5},{"t":150,"x":42.7,"y":158},{"t":150,"x":42.75,"y":161},{"t":150,"x":42.8,"y":162.5},{"t":150,"x":42.85,"y":165},{"t":150,"x":42.9,"y":161.5},{"t":150,"x":42.95,"y":159},{"t":150,"x":43,"y":157.5},{"t":150,"x":43.05,"y":155},{"t":150,"x":43.1,"y":153},{"t":150,"x":43.15,"y":152.2},{"t":150,"x":43.2,"y":151.8},{"t":150,"x":43.25,"y":152.5},{"t":150,"x":43.3,"y":152.2},{"t":150,"x":43.35,"y":153},{"t":150,"x":43.4,"y":153.2},{"t":150,"x":43.45,"y":153.8},{"t":150,"x":43.5,"y":154.2},{"t":150,"x":43.55,"y":155.2},{"t":150,"x":43.6,"y":156},{"t":150,"x":43.65,"y":157.5},{"t":150,"x":43.7,"y":158.5},{"t":150,"x":43.75,"y":161},{"t":150,"x":43.8,"y":162.5},{"t":150,"x":43.85,"y":165},{"t":150,"x":43.9,"y":168},{"t":150,"x":43.95,"y":171},{"t":150,"x":44,"y":174},{"t":150,"x":44.05,"y":175.5},{"t":150,"x":44.1,"y":171},{"t":150,"x":44.15,"y":166},{"t":150,"x":44.2,"y":162},{"t":150,"x":44.25,"y":158},{"t":150,"x":44.3,"y":154.5},{"t":150,"x":44.35,"y":151.5},{"t":150,"x":44.4,"y":150.8},{"t":150,"x":44.45,"y":150.3},{"t":150,"x":44.5,"y":151},{"t":150,"x":44.55,"y":150.4},{"t":150,"x":44.6,"y":150.9},{"t":150,"x":44.65,"y":150.2},{"t":150,"x":44.7,"y":150.7},{"t":150,"x":44.75,"y":150.1},{"t":150,"x":44.8,"y":150.8},{"t":150,"x":44.85,"y":150.3},{"t":150,"x":44.9,"y":150.9},{"t":150,"x":44.95,"y":150.2},{"t":150,"x":45,"y":150.6},
{"t":120,"x":42,"y":120.4},{"t":120,"x":42.05,"y":120.9},{"t":120,"x":42.1,"y":120.2},{"t":120,"x":42.15,"y":120.7},{"t":120,"x":42.2,"y":120.1},{"t":120,"x":42.25,"y":120.8},{"t":120,"x":42.3,"y":120.4},{"t":120,"x":42.35,"y":121},{"t":120,"x":42.4,"y":120.3},{"t":120,"x":42.45,"y":120.8},{"t":120,"x":42.5,"y":120.5},{"t":120,"x":42.55,"y":121.1},{"t":120,"x":42.6,"y":120.4},{"t":120,"x":42.65,"y":121},{"t":120,"x":42.7,"y":126},{"t":120,"x":42.75,"y":129},{"t":120,"x":42.8,"y":132},{"t":120,"x":42.85,"y":135},{"t":120,"x":42.9,"y":133.5},{"t":120,"x":42.95,"y":131.5},{"t":120,"x":43,"y":127},{"t":120,"x":43.05,"y":124},{"t":120,"x":43.1,"y":122.5},{"t":120,"x":43.15,"y":121.8},{"t":120,"x":43.2,"y":121.2},{"t":120,"x":43.25,"y":121.8},{"t":120,"x":43.3,"y":121.5},{"t":120,"x":43.35,"y":122.3},{"t":120,"x":43.4,"y":122.6},{"t":120,"x":43.45,"y":123.2},{"t":120,"x":43.5,"y":123.5},{"t":120,"x":43.55,"y":124.8},{"t":120,"x":43.6,"y":125.8},{"t":120,"x":43.65,"y":127.5},{"t":120,"x":43.7,"y":128.5},{"t":120,"x":43.75,"y":130.5},{"t":120,"x":43.8,"y":132},{"t":120,"x":43.85,"y":134.5},{"t":120,"x":43.9,"y":138},{"t":120,"x":43.95,"y":142},{"t":120,"x":44,"y":145},{"t":120,"x":44.05,"y":144},{"t":120,"x":44.1,"y":140.5},{"t":120,"x":44.15,"y":138},{"t":120,"x":44.2,"y":134},{"t":120,"x":44.25,"y":130},{"t":120,"x":44.3,"y":127},{"t":120,"x":44.35,"y":124},{"t":120,"x":44.4,"y":121.5},{"t":120,"x":44.45,"y":120.6},{"t":120,"x":44.5,"y":121.1},{"t":120,"x":44.55,"y":120.3},{"t":120,"x":44.6,"y":120.9},{"t":120,"x":44.65,"y":120.2},{"t":120,"x":44.7,"y":120.8},{"t":120,"x":44.75,"y":120.4},{"t":120,"x":44.8,"y":120.9},{"t":120,"x":44.85,"y":120.2},{"t":120,"x":44.9,"y":120.7},{"t":120,"x":44.95,"y":120.3},{"t":120,"x":45,"y":120.6},
{"t":90,"x":42,"y":90.5},{"t":90,"x":42.05,"y":91.5},{"t":90,"x":42.1,"y":90.6},{"t":90,"x":42.15,"y":91},{"t":90,"x":42.2,"y":90.3},{"t":90,"x":42.25,"y":90.8},{"t":90,"x":42.3,"y":90.2},{"t":90,"x":42.35,"y":90.9},{"t":90,"x":42.4,"y":90.4},{"t":90,"x":42.45,"y":91},{"t":90,"x":42.5,"y":90.5},{"t":90,"x":42.55,"y":91.1},{"t":90,"x":42.6,"y":90.6},{"t":90,"x":42.65,"y":92},{"t":90,"x":42.7,"y":95.5},{"t":90,"x":42.75,"y":99.5},{"t":90,"x":42.8,"y":103},{"t":90,"x":42.85,"y":105},{"t":90,"x":42.9,"y":102.5},{"t":90,"x":42.95,"y":99},{"t":90,"x":43,"y":96.5},{"t":90,"x":43.05,"y":94},{"t":90,"x":43.1,"y":92.5},{"t":90,"x":43.15,"y":92},{"t":90,"x":43.2,"y":92.6},{"t":90,"x":43.25,"y":91.8},{"t":90,"x":43.3,"y":92.5},{"t":90,"x":43.35,"y":93.2},{"t":90,"x":43.4,"y":94},{"t":90,"x":43.45,"y":94.5},{"t":90,"x":43.5,"y":95.2},{"t":90,"x":43.55,"y":95.5},{"t":90,"x":43.6,"y":97.5},{"t":90,"x":43.65,"y":99.5},{"t":90,"x":43.7,"y":101},{"t":90,"x":43.75,"y":102.5},{"t":90,"x":43.8,"y":104.5},{"t":90,"x":43.85,"y":107},{"t":90,"x":43.9,"y":109.5},{"t":90,"x":43.95,"y":111},{"t":90,"x":44,"y":114},{"t":90,"x":44.05,"y":116},{"t":90,"x":44.1,"y":112},{"t":90,"x":44.15,"y":109},{"t":90,"x":44.2,"y":104.5},{"t":90,"x":44.25,"y":100},{"t":90,"x":44.3,"y":96},{"t":90,"x":44.35,"y":92},{"t":90,"x":44.4,"y":91},{"t":90,"x":44.45,"y":91.4},{"t":90,"x":44.5,"y":90.6},{"t":90,"x":44.55,"y":91},{"t":90,"x":44.6,"y":90.3},{"t":90,"x":44.65,"y":90.9},{"t":90,"x":44.7,"y":90.2},{"t":90,"x":44.75,"y":90.8},{"t":90,"x":44.8,"y":90.4},{"t":90,"x":44.85,"y":90.9},{"t":90,"x":44.9,"y":90.2},{"t":90,"x":44.95,"y":90.8},{"t":90,"x":45,"y":90.4},
{"t":60,"x":42,"y":60.2},{"t":60,"x":42.05,"y":60.7},{"t":60,"x":42.1,"y":60.1},{"t":60,"x":42.15,"y":60.6},{"t":60,"x":42.2,"y":60},{"t":60,"x":42.25,"y":60.5},{"t":60,"x":42.3,"y":60.2},{"t":60,"x":42.35,"y":60.8},{"t":60,"x":42.4,"y":60.3},{"t":60,"x":42.45,"y":60.6},{"t":60,"x":42.5,"y":60.1},{"t":60,"x":42.55,"y":60.7},{"t":60,"x":42.6,"y":60.9},{"t":60,"x":42.65,"y":63},{"t":60,"x":42.7,"y":66},{"t":60,"x":42.75,"y":69},{"t":60,"x":42.8,"y":72.5},{"t":60,"x":42.85,"y":72.8},{"t":60,"x":42.9,"y":72},{"t":60,"x":42.95,"y":68.5},{"t":60,"x":43,"y":66},{"t":60,"x":43.05,"y":64},{"t":60,"x":43.1,"y":61.5},{"t":60,"x":43.15,"y":61},{"t":60,"x":43.2,"y":61.6},{"t":60,"x":43.25,"y":60.8},{"t":60,"x":43.3,"y":61.4},{"t":60,"x":43.35,"y":60.9},{"t":60,"x":43.4,"y":61.6},{"t":60,"x":43.45,"y":61.2},{"t":60,"x":43.5,"y":61.8},{"t":60,"x":43.55,"y":63},{"t":60,"x":43.6,"y":64.5},{"t":60,"x":43.65,"y":65.5},{"t":60,"x":43.7,"y":68},{"t":60,"x":43.75,"y":71.5},{"t":60,"x":43.8,"y":76},{"t":60,"x":43.85,"y":79},{"t":60,"x":43.9,"y":81.5},{"t":60,"x":43.95,"y":82.5},{"t":60,"x":44,"y":84.5},{"t":60,"x":44.05,"y":85.5},{"t":60,"x":44.1,"y":81.5},{"t":60,"x":44.15,"y":78.5},{"t":60,"x":44.2,"y":75},{"t":60,"x":44.25,"y":70},{"t":60,"x":44.3,"y":64.5},{"t":60,"x":44.35,"y":62.5},{"t":60,"x":44.4,"y":61.2},{"t":60,"x":44.45,"y":60.5},{"t":60,"x":44.5,"y":61},{"t":60,"x":44.55,"y":60.3},{"t":60,"x":44.6,"y":60.8},{"t":60,"x":44.65,"y":60.1},{"t":60,"x":44.7,"y":60.7},{"t":60,"x":44.75,"y":60.2},{"t":60,"x":44.8,"y":60.6},{"t":60,"x":44.85,"y":60},{"t":60,"x":44.9,"y":60.5},{"t":60,"x":44.95,"y":60.1},{"t":60,"x":45,"y":60.4},
{"t":30,"x":42,"y":30.3},{"t":30,"x":42.05,"y":29.8},{"t":30,"x":42.1,"y":30.5},{"t":30,"x":42.15,"y":29.9},{"t":30,"x":42.2,"y":30.4},{"t":30,"x":42.25,"y":30},{"t":30,"x":42.3,"y":30.6},{"t":30,"x":42.35,"y":29.8},{"t":30,"x":42.4,"y":30.3},{"t":30,"x":42.45,"y":30.1},{"t":30,"x":42.5,"y":30.5},{"t":30,"x":42.55,"y":31},{"t":30,"x":42.6,"y":30.6},{"t":30,"x":42.65,"y":32.5},{"t":30,"x":42.7,"y":35.5},{"t":30,"x":42.75,"y":38.5},{"t":30,"x":42.8,"y":40.5},{"t":30,"x":42.85,"y":41.5},{"t":30,"x":42.9,"y":40.5},{"t":30,"x":42.95,"y":38},{"t":30,"x":43,"y":36},{"t":30,"x":43.05,"y":33.5},{"t":30,"x":43.1,"y":32.5},{"t":30,"x":43.15,"y":31.8},{"t":30,"x":43.2,"y":31.4},{"t":30,"x":43.25,"y":30.8},{"t":30,"x":43.3,"y":31.3},{"t":30,"x":43.35,"y":30.6},{"t":30,"x":43.4,"y":31.2},{"t":30,"x":43.45,"y":30.9},{"t":30,"x":43.5,"y":31.5},{"t":30,"x":43.55,"y":31.2},{"t":30,"x":43.6,"y":32.3},{"t":30,"x":43.65,"y":33.5},{"t":30,"x":43.7,"y":36},{"t":30,"x":43.75,"y":39.5},{"t":30,"x":43.8,"y":43},{"t":30,"x":43.85,"y":47},{"t":30,"x":43.9,"y":49.5},{"t":30,"x":43.95,"y":51.5},{"t":30,"x":44,"y":53.5},{"t":30,"x":44.05,"y":54.5},{"t":30,"x":44.1,"y":55.5},{"t":30,"x":44.15,"y":50},{"t":30,"x":44.2,"y":44},{"t":30,"x":44.25,"y":40.5},{"t":30,"x":44.3,"y":36.5},{"t":30,"x":44.35,"y":33.5},{"t":30,"x":44.4,"y":31.4},{"t":30,"x":44.45,"y":31},{"t":30,"x":44.5,"y":30.3},{"t":30,"x":44.55,"y":30.9},{"t":30,"x":44.6,"y":30.2},{"t":30,"x":44.65,"y":30.7},{"t":30,"x":44.7,"y":30},{"t":30,"x":44.75,"y":30.5},{"t":30,"x":44.8,"y":30.1},{"t":30,"x":44.85,"y":30.6},{"t":30,"x":44.9,"y":29.9},{"t":30,"x":44.95,"y":30.4},{"t":30,"x":45,"y":30},
{"t":0,"x":42,"y":0.2},{"t":0,"x":42.05,"y":-0.4},{"t":0,"x":42.1,"y":0.4},{"t":0,"x":42.15,"y":-0.2},{"t":0,"x":42.2,"y":0.1},{"t":0,"x":42.25,"y":-0.3},{"t":0,"x":42.3,"y":0.3},{"t":0,"x":42.35,"y":-0.1},{"t":0,"x":42.4,"y":0.5},{"t":0,"x":42.45,"y":0},{"t":0,"x":42.5,"y":0.6},{"t":0,"x":42.55,"y":0.2},{"t":0,"x":42.6,"y":1.2},{"t":0,"x":42.65,"y":0.5},{"t":0,"x":42.7,"y":3.5},{"t":0,"x":42.75,"y":7},{"t":0,"x":42.8,"y":10},{"t":0,"x":42.85,"y":12.5},{"t":0,"x":42.9,"y":9.5},{"t":0,"x":42.95,"y":7.5},{"t":0,"x":43,"y":5.5},{"t":0,"x":43.05,"y":3.5},{"t":0,"x":43.1,"y":1.6},{"t":0,"x":43.15,"y":0.8},{"t":0,"x":43.2,"y":0.3},{"t":0,"x":43.25,"y":0.6},{"t":0,"x":43.3,"y":0.2},{"t":0,"x":43.35,"y":0.7},{"t":0,"x":43.4,"y":0.4},{"t":0,"x":43.45,"y":0.9},{"t":0,"x":43.5,"y":0.6},{"t":0,"x":43.55,"y":1.5},{"t":0,"x":43.6,"y":2},{"t":0,"x":43.65,"y":3.8},{"t":0,"x":43.7,"y":5.2},{"t":0,"x":43.75,"y":8},{"t":0,"x":43.8,"y":11},{"t":0,"x":43.85,"y":15},{"t":0,"x":43.9,"y":20},{"t":0,"x":43.95,"y":24},{"t":0,"x":44,"y":23.5},{"t":0,"x":44.05,"y":25},{"t":0,"x":44.1,"y":25.5},{"t":0,"x":44.15,"y":21},{"t":0,"x":44.2,"y":16.5},{"t":0,"x":44.25,"y":11.5},{"t":0,"x":44.3,"y":5.5},{"t":0,"x":44.35,"y":3},{"t":0,"x":44.4,"y":1.2},{"t":0,"x":44.45,"y":0.6},{"t":0,"x":44.5,"y":0.2},{"t":0,"x":44.55,"y":0.8},{"t":0,"x":44.6,"y":0.1},{"t":0,"x":44.65,"y":0.5},{"t":0,"x":44.7,"y":-0.2},{"t":0,"x":44.75,"y":0.4},{"t":0,"x":44.8,"y":0},{"t":0,"x":44.85,"y":0.6},{"t":0,"x":44.9,"y":-0.1},{"t":0,"x":44.95,"y":0.3},{"t":0,"x":45,"y":0.1}
]
},
"vconcat": [
{
  "width": 493, "height": 361,
  "resolve": {"axis": {"x": "independent", "y": "independent"}},
  "layer": [
    {"data": {"name": "top"},
     "mark": {"type": "line", "color": "#000", "strokeWidth": 1.5, "strokeJoin": "round"},
     "encoding": {
       "x": {"field": "x", "type": "quantitative",
             "scale": {"domain": [10, 70], "range": [44, 493], "nice": false, "zero": false},
             "axis": {"title": "2-theta / degree", "values": [10,15,20,25,30,35,40,45,50,55,60,65,70], "format": "d",
                      "labelExpr": "datum.value % 10 === 0 ? datum.label : ''",
                      "tickSize": {"condition": {"test": "datum.value % 10 === 0", "value": 7}, "value": 4},
                      "labelFontSize": 17, "titleFontSize": 23, "labelPadding": 9, "titlePadding": 20,
                      "labelOverlap": false, "labelFlush": false}},
       "y": {"field": "y", "type": "quantitative",
             "scale": {"domain": [0, 361], "nice": false, "zero": false},
             "axis": {"title": "Intensity / a.u.", "values": [0, 90.25, 180.5, 270.75, 361], "labels": false,
                      "tickSize": 7, "offset": -44, "titleFontSize": 24, "titlePadding": 16}},
       "detail": {"field": "s"}
     }},
    {"data": {"values": [{"k": 1}]},
     "mark": {"type": "rule", "color": "#555", "strokeWidth": 1},
     "encoding": {"x": {"datum": 10, "axis": null}, "x2": {"datum": 70}, "y": {"datum": 361, "axis": null}}},
    {"data": {"values": [{"k": 1}]},
     "mark": {"type": "rule", "color": "#555", "strokeWidth": 1},
     "encoding": {"x": {"datum": 70, "axis": null}, "y": {"datum": 0, "axis": null}, "y2": {"datum": 361}}},
    {"data": {"name": "toplab"},
     "mark": {"type": "text", "align": "right", "baseline": "middle", "fontSize": 16, "fontWeight": "bold", "font": "DejaVu Sans", "color": "#000"},
     "encoding": {"x": {"datum": 69, "axis": null}, "y": {"field": "y", "type": "quantitative", "axis": null}, "text": {"field": "lab"}}}
  ]
},
{
  "width": 458, "height": 371,
  "view": {"stroke": "#444", "strokeWidth": 1},
  "resolve": {"axis": {"x": "independent", "y": "independent"}},
  "layer": [
    {"data": {"name": "botlab"},
     "mark": {"type": "rule", "strokeDash": [7, 5], "strokeWidth": 1.8, "color": "#000"},
     "encoding": {
       "x": {"datum": 42, "axis": null}, "x2": {"datum": 45},
       "y": {"field": "t", "type": "quantitative",
             "scale": {"domain": [-12.2, 242.8], "nice": false, "zero": false},
             "axis": {"orient": "right", "title": "Time / min.", "values": [0,30,60,90,120,150,180,210], "format": "d",
                      "ticks": false, "domain": false, "labelFontSize": 17, "labelPadding": 8,
                      "titleFontSize": 23, "titlePadding": 9, "titleAngle": 90}}
     }},
    {"data": {"name": "bottom"},
     "mark": {"type": "line", "color": "#000", "strokeWidth": 2, "strokeJoin": "round"},
     "encoding": {
       "x": {"field": "x", "type": "quantitative",
             "scale": {"domain": [42, 45], "nice": false, "zero": false},
             "axis": {"title": "2-theta / degree", "values": [42, 42.5, 43, 43.5, 44, 44.5, 45], "format": "d",
                      "labelExpr": "datum.value % 1 === 0 ? datum.label : ''",
                      "tickSize": {"condition": {"test": "datum.value % 1 === 0", "value": 7}, "value": 4},
                      "labelFontSize": 18, "titleFontSize": 23, "labelPadding": 8, "titlePadding": 10,
                      "labelOverlap": false, "labelFlush": false}},
       "y": {"field": "y", "type": "quantitative",
             "scale": {"domain": [-12.2, 242.8], "nice": false, "zero": false},
             "axis": {"orient": "left", "title": "Intensity / a.u.", "values": [-12.2, 51.55, 115.3, 179.05, 242.8],
                      "labels": false, "tickSize": 6, "titleFontSize": 24, "titlePadding": 15}},
       "detail": {"field": "t"}
     }},
    {"data": {"name": "botlab"},
     "mark": {"type": "text", "align": "right", "baseline": "middle", "fontSize": 18, "fontWeight": "bold", "font": "DejaVu Sans", "color": "#000"},
     "encoding": {"x": {"datum": 44.94, "axis": null}, "y": {"field": "ly", "type": "quantitative", "axis": null}, "text": {"field": "lab"}}}
  ]
}
]
}
